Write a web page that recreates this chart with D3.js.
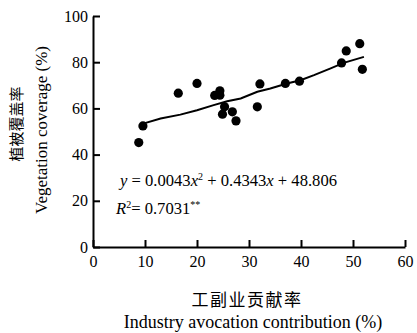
<!DOCTYPE html>
<html>
<head>
<meta charset="utf-8">
<script src="https://cdn.jsdelivr.net/npm/d3@7"></script>
<style>
  body { margin: 0; background: #fff; }
  text { font-family: "Liberation Serif", "Times New Roman", serif; fill: #000; }
  .cjk { font-family: "Noto Sans CJK SC", sans-serif; }
</style>
</head>
<body>
<div id="chart"></div>
<script>
// industry avocation contribution (%) vs vegetation coverage (%)
const contribution = [8.8, 9.6, 16.4, 20.0, 23.4, 24.4, 24.4, 25.3, 24.9, 26.8, 27.5, 31.6, 32.1, 37.0, 39.7, 47.8, 48.7, 51.3, 51.8];
const coverage = [45.2, 52.4, 66.6, 70.8, 65.6, 67.6, 65.7, 60.7, 57.5, 58.5, 54.6, 60.7, 70.6, 70.8, 71.8, 79.7, 84.9, 88.0, 76.9];

// fitted curve
const fitX = [9.65, 13.0, 16.8, 20.0, 23.2, 25.8, 28.4, 31.6, 34.1, 37.3, 39.9, 42.5, 45.7, 48.2, 52.1];
const fitY = [53.4, 55.6, 57.3, 59.2, 61.4, 63.1, 64.3, 67.2, 68.6, 70.8, 72.2, 74.4, 77.3, 79.7, 82.3];

const xTicks = [0, 10, 20, 30, 40, 50, 60];
const yTicks = [0, 20, 40, 60, 80, 100];

function drawChart() {
    const margin = { top: 16, right: 12, bottom: 86, left: 93 };
    const width = 417 - margin.left - margin.right;
    const height = 333 - margin.top - margin.bottom;

    const svg = d3.select("#chart").append("svg")
        .attr("width", 417)
        .attr("height", 333)
        .append("g")
        .attr("transform", "translate(" + margin.left + "," + margin.top + ")");

    const x = d3.scaleLinear().domain([0, 60]).range([0, width]);
    const y = d3.scaleLinear().domain([0, 100]).range([height, 0]);

    // axes, ticks point inward
    const xAxis = svg.append("g")
        .attr("transform", "translate(0," + height + ")")
        .call(d3.axisBottom(x).tickValues(xTicks).tickSize(-7).tickPadding(9).tickSizeOuter(0));
    const yAxis = svg.append("g")
        .call(d3.axisLeft(y).tickValues(yTicks).tickSize(-7).tickPadding(5).tickSizeOuter(0));

    [xAxis, yAxis].forEach(a => {
        a.attr("font-family", "Liberation Serif").attr("font-size", 16);
        a.selectAll("path, line").attr("stroke", "#000").attr("stroke-width", 2);
        a.selectAll("text").attr("fill", "#000");
    });

    // fitted line
    const pts = fitX.map((d, i) => [d, fitY[i]]);
    svg.append("path")
        .datum(pts)
        .attr("fill", "none")
        .attr("stroke", "#000")
        .attr("stroke-width", 2)
        .attr("d", d3.line().x(d => x(d[0])).y(d => y(d[1])));

    // points
    svg.selectAll(".dot")
        .data(contribution)
        .enter().append("circle")
        .attr("class", "dot")
        .attr("cx", d => x(d))
        .attr("cy", (d, i) => y(coverage[i]))
        .attr("r", 4.6)
        .attr("fill", "#000");

    // equation
    const eq = svg.append("text")
        .attr("x", 27)
        .attr("y", 170)
        .style("font-size", "16.6px");
    eq.append("tspan").style("font-style", "italic").text("y");
    eq.append("tspan").text(" = 0.0043");
    eq.append("tspan").style("font-style", "italic").text("x");
    eq.append("tspan").attr("dy", -6).style("font-size", "10px").text("2");
    eq.append("tspan").attr("dy", 6).text(" + 0.4343");
    eq.append("tspan").style("font-style", "italic").text("x");
    eq.append("tspan").text(" + 48.806");

    const r2 = svg.append("text")
        .attr("x", 23)
        .attr("y", 198)
        .style("font-size", "16.6px");
    r2.append("tspan").style("font-style", "italic").text("R");
    r2.append("tspan").attr("dy", -6).style("font-size", "10px").text("2");
    r2.append("tspan").attr("dy", 6).text("= 0.7031");
    r2.append("tspan").attr("dy", -6).style("font-size", "10px").text("**");

    // axis titles
    svg.append("text")
        .attr("class", "cjk")
        .attr("x", width / 2 - 2)
        .attr("y", height + 59)
        .style("text-anchor", "middle")
        .style("font-size", "17px")
        .style("letter-spacing", "1.5px")
        .text("工副业贡献率");

    svg.append("text")
        .attr("x", width / 2 + 4)
        .attr("y", height + 81)
        .style("text-anchor", "middle")
        .style("font-size", "18px")
        .text("Industry avocation contribution (%)");

    svg.append("text")
        .attr("class", "cjk")
        .attr("transform", "translate(" + (22 - margin.left) + "," + (124 - margin.top) + ") rotate(-90)")
        .style("text-anchor", "middle")
        .style("font-size", "15px")
        .text("植被覆盖率");

    svg.append("text")
        .attr("transform", "translate(" + (47 - margin.left) + "," + (130 - margin.top) + ") rotate(-90)")
        .style("text-anchor", "middle")
        .style("font-size", "17px")
        .text("Vegetation coverage (%)");
}

drawChart();
</script>
</body>
</html>
